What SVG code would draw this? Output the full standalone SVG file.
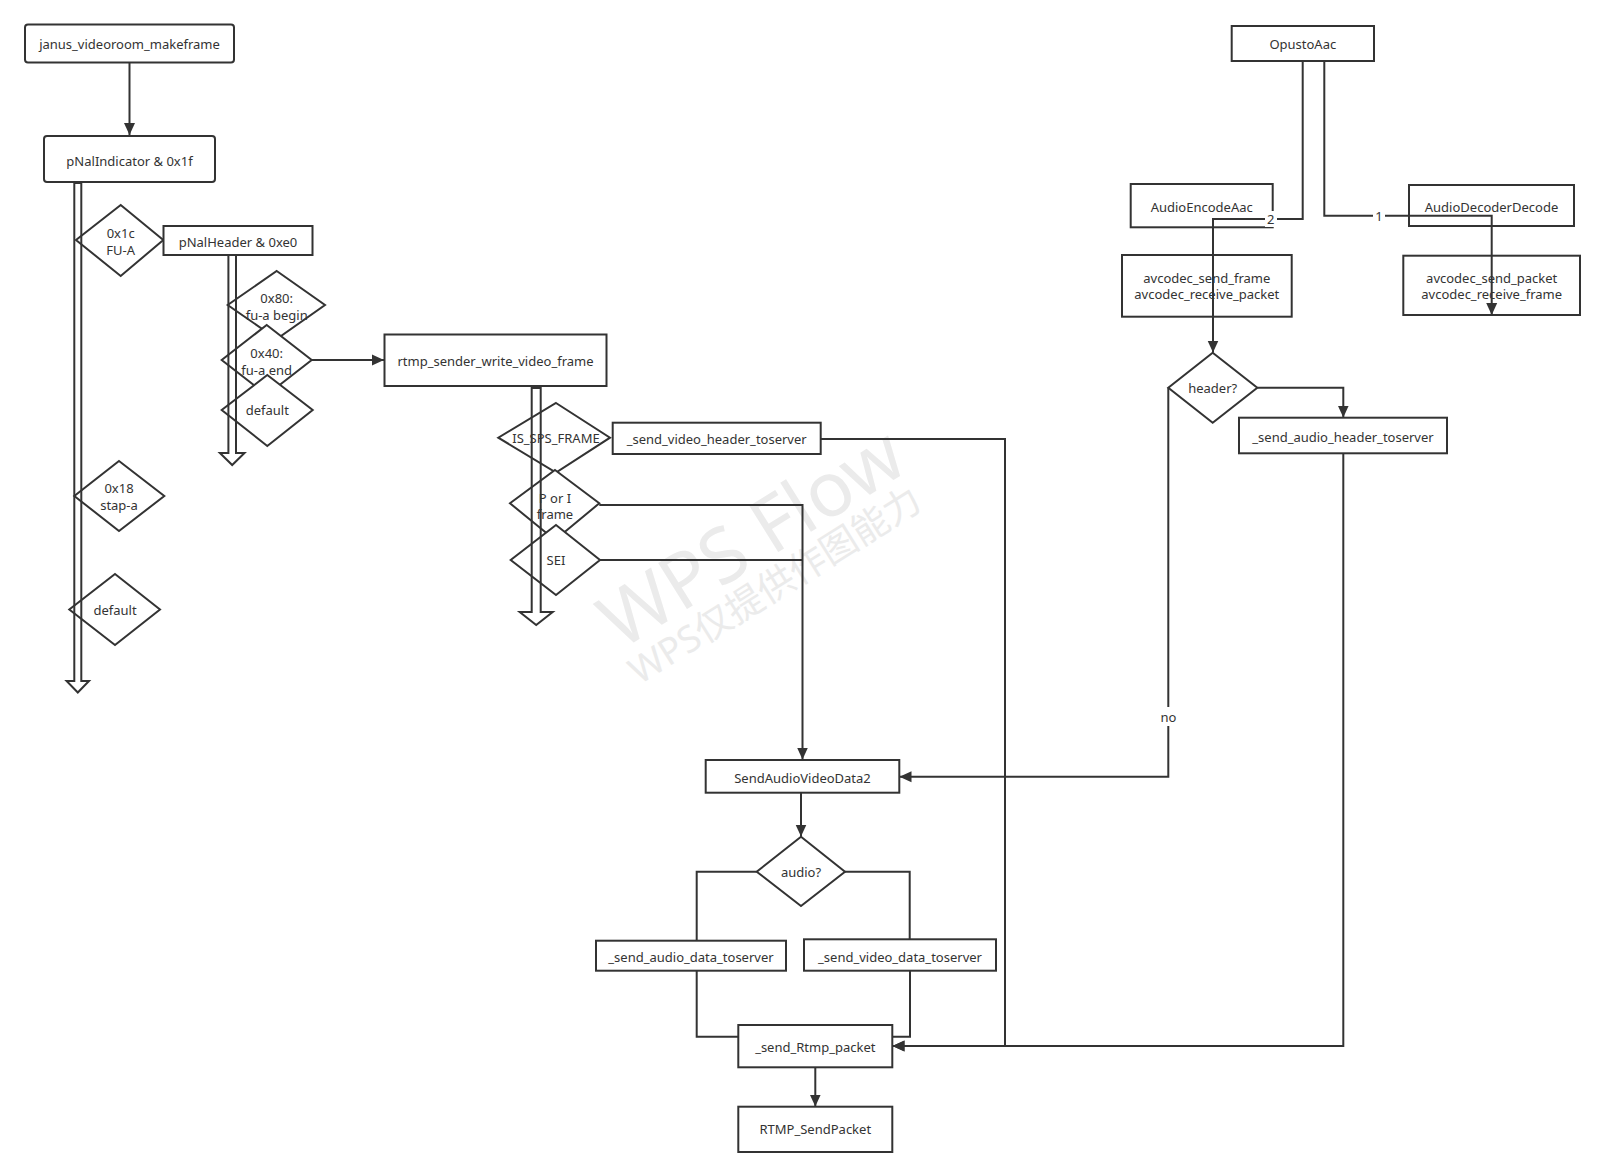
<svg xmlns="http://www.w3.org/2000/svg" width="1604" height="1176" viewBox="0 0 1604 1176">
<defs>
<style>
.box{fill:#fff;stroke:#333;stroke-width:2}
.dia{fill:#fff;stroke:#333;stroke-width:2}
.t{font-family:"Noto Sans","Open Sans","Liberation Sans",sans-serif;font-size:13px;fill:#333;text-anchor:middle;dominant-baseline:central}
.c{fill:none;stroke:#333;stroke-width:2}
.shaft{fill:none;stroke:#333;stroke-width:2;stroke-linejoin:miter}
.lbl{fill:#fff}
.wm{font-family:"Noto Sans","Noto Sans CJK SC",sans-serif;fill:#ebebeb;text-anchor:middle;dominant-baseline:central}
</style>
<marker id="ah" markerUnits="userSpaceOnUse" markerWidth="12" markerHeight="12" viewBox="0 0 12 12" refX="12" refY="6" orient="auto">
<path d="M0,0.5 L12,6 L0,11.5 Z" fill="#333"/>
</marker>
</defs>
<rect width="1604" height="1176" fill="#fff"/>
<g id="watermark">
<text class="wm" x="750" y="535" font-size="76" transform="rotate(-32 750 535)">WPS Flow</text>
<text class="wm" x="774" y="584" font-size="37" transform="rotate(-32 774 584)">WPS仅提供作图能力</text>
</g>
<g id="n_janus"><rect class="box" x="25" y="24.5" width="209" height="38" rx="3"/><text class="t" x="129.5" y="44">janus_videoroom_makeframe</text></g>
<g id="n_pnalind"><rect class="box" x="44" y="136" width="171" height="46" rx="3"/><text class="t" x="129.5" y="160.5">pNalIndicator &amp; 0x1f</text></g>
<g id="n_1c"><path class="dia" d="M120.7,205 L163.3,240 L120.7,276 L76,240 Z"/><text class="t" x="120.7" y="232.5">0x1c</text><text class="t" x="120.7" y="249.5">FU-A</text></g>
<g id="n_pnalhdr"><rect class="box" x="163.5" y="226" width="149" height="29"/><text class="t" x="238" y="241.5">pNalHeader &amp; 0xe0</text></g>
<g id="n_80"><path class="dia" d="M276.7,271 L325,305 L276.7,339 L227.7,305 Z"/><text class="t" x="276.7" y="298">0x80:</text><text class="t" x="276.7" y="315">fu-a begin</text></g>
<g id="n_40"><path class="dia" d="M266.7,325 L311.7,360 L266.7,395 L221.7,360 Z"/><text class="t" x="266.7" y="353">0x40:</text><text class="t" x="266.7" y="370">fu-a end</text></g>
<g id="n_def1"><path class="dia" d="M267.3,375 L312.7,410 L267.3,446 L221.7,410 Z"/><text class="t" x="267.3" y="410">default</text></g>
<g id="n_18"><path class="dia" d="M119,461 L164.3,496 L119,531 L74.3,496 Z"/><text class="t" x="119" y="488">0x18</text><text class="t" x="119" y="505">stap-a</text></g>
<g id="n_def2"><path class="dia" d="M115,574 L160,609.5 L115,645 L69.3,609.5 Z"/><text class="t" x="115" y="609.5">default</text></g>
<g id="n_rtmpsender"><rect class="box" x="384.5" y="334.5" width="222" height="51.5"/><text class="t" x="495.5" y="361">rtmp_sender_write_video_frame</text></g>
<g id="n_sps"><path class="dia" d="M556,403 L610,437.7 L556,472.5 L498.3,437.7 Z"/><text class="t" x="556" y="437.7">IS_SPS_FRAME</text></g>
<g id="n_vhdr"><rect class="box" x="612.7" y="422.7" width="208" height="31.3"/><text class="t" x="716.7" y="439">_send_video_header_toserver</text></g>
<g id="n_pi"><path class="dia" d="M555,470 L599.3,503.3 L555,540 L510,503.3 Z"/><text class="t" x="555" y="497.5">P or I</text><text class="t" x="555" y="513.5">frame</text></g>
<g id="n_sei"><path class="dia" d="M556,525 L600,560 L556,595 L510.7,560 Z"/><text class="t" x="556" y="560">SEI</text></g>
<g id="n_sav"><rect class="box" x="705.7" y="760" width="193.6" height="32.7"/><text class="t" x="802.5" y="777.5">SendAudioVideoData2</text></g>
<g id="n_audioq"><path class="dia" d="M801,836.7 L845,871.7 L801,906 L756.7,871.7 Z"/><text class="t" x="801" y="871.7">audio?</text></g>
<g id="n_adata"><rect class="box" x="596" y="940.7" width="190" height="30"/><text class="t" x="691" y="956.5">_send_audio_data_toserver</text></g>
<g id="n_vdata"><rect class="box" x="804" y="939.3" width="192" height="31.4"/><text class="t" x="900" y="956.5">_send_video_data_toserver</text></g>
<g id="n_rtmppkt"><rect class="box" x="738.3" y="1025" width="154" height="42.3"/><text class="t" x="815.3" y="1046.5">_send_Rtmp_packet</text></g>
<g id="n_rtmpsend"><rect class="box" x="738.3" y="1106.7" width="154" height="45.3"/><text class="t" x="815.3" y="1129">RTMP_SendPacket</text></g>
<g id="n_opus"><rect class="box" x="1231.7" y="26" width="142.3" height="35"/><text class="t" x="1302.8" y="44">OpustoAac</text></g>
<g id="n_enc"><rect class="box" x="1130.7" y="184" width="142" height="43.3"/><text class="t" x="1201.7" y="206.5">AudioEncodeAac</text></g>
<g id="n_dec"><rect class="box" x="1409" y="185" width="165" height="41"/><text class="t" x="1491.5" y="206.5">AudioDecoderDecode</text></g>
<g id="n_encf"><rect class="box" x="1122" y="255" width="169.7" height="61.7"/><text class="t" x="1206.8" y="278.3">avcodec_send_frame</text><text class="t" x="1206.8" y="294.3">avcodec_receive_packet</text></g>
<g id="n_decf"><rect class="box" x="1403.3" y="255.7" width="176.7" height="59.3"/><text class="t" x="1491.7" y="278.3">avcodec_send_packet</text><text class="t" x="1491.7" y="294.3">avcodec_receive_frame</text></g>
<g id="n_headerq"><path class="dia" d="M1212.7,352.7 L1257.3,387.7 L1212.7,422.7 L1168.3,387.7 Z"/><text class="t" x="1212.7" y="387.7">header?</text></g>
<g id="n_ahdr"><rect class="box" x="1239" y="417.7" width="208" height="35.6"/><text class="t" x="1343" y="436.5">_send_audio_header_toserver</text></g>
<g id="connectors">
<path class="c" d="M129.5,62.5 V135" marker-end="url(#ah)"/>
<path class="c" d="M311.7,360 H384" marker-end="url(#ah)"/>
<path class="c" d="M599.3,505 H802.5 V759.5" marker-end="url(#ah)"/>
<path class="c" d="M600,560 H802.5"/>
<path class="c" d="M820.7,439 H1005 V1046 H892.5" marker-end="url(#ah)"/>
<path class="c" d="M801,792.7 V836.5" marker-end="url(#ah)"/>
<path class="c" d="M756.7,871.7 H696.7 V940.7"/>
<path class="c" d="M845,871.7 H909.7 V939.3"/>
<path class="c" d="M696.7,970.7 V1036.7 H738.3"/>
<path class="c" d="M910,970.7 V1036.7 H892.3"/>
<path class="c" d="M815.3,1067.3 V1106.5" marker-end="url(#ah)"/>
<path class="c" d="M1302.7,61 V219 H1213 V352.5" marker-end="url(#ah)"/>
<path class="c" d="M1324.3,61 V215.7 H1491.7 V315" marker-end="url(#ah)"/>
<path class="c" d="M1257.3,387.7 H1343.3 V417.5" marker-end="url(#ah)"/>
<path class="c" d="M1168.3,387.7 V776.7 H899.5" marker-end="url(#ah)"/>
<path class="c" d="M1343.3,453.3 V1046 H892.5" marker-end="url(#ah)"/>
<rect class="lbl" x="1265" y="211" width="12" height="16"/><text class="t" x="1270.7" y="219">2</text>
<rect class="lbl" x="1373" y="208" width="12" height="16"/><text class="t" x="1379" y="215.7">1</text>
<rect class="lbl" x="1158" y="707" width="21" height="19"/><text class="t" x="1168.5" y="716.7">no</text>
<path class="shaft" d="M74.3,183 H81.3 V681 H89 L77.8,692.5 L66.6,681 H74.3 Z"/>
<path class="shaft" d="M228.4,255 H236 V453 H244.5 L232.2,465 L219.9,453 H228.4 Z"/>
<path class="shaft" d="M531.7,388 H540.7 V612 H552.7 L536.2,625 L519.7,612 H531.7 Z"/>
</g>
</svg>
